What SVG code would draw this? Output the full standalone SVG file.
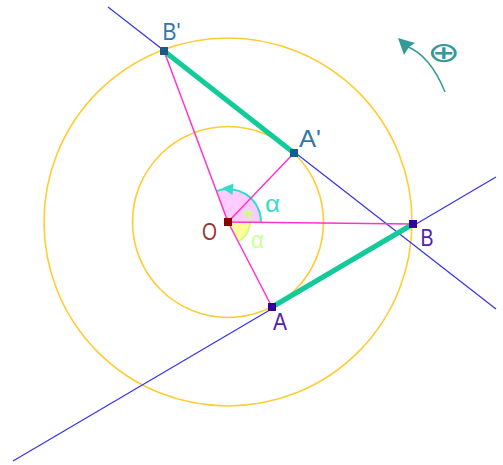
<svg xmlns="http://www.w3.org/2000/svg" width="503" height="465" viewBox="0 0 503 465">
<style>
.circ{fill:none;stroke:#ffcc33;stroke-width:1.6}
.blue{stroke:#3333ee;stroke-width:1.2;fill:none}
.pink{stroke:#ff33cc;stroke-width:1.5;fill:none}
.seg{stroke:#11cc99;stroke-width:5;stroke-linecap:butt}
.lbl{font-family:"Liberation Sans",Arial,sans-serif;font-size:23px}
.ptA{fill:#330099}
.ptA2{fill:#1a5a88}
.labA{fill:#5522aa}
.labA2{fill:#3377aa}
</style>
<rect width="503" height="465" fill="#ffffff"/>
<g id="circles">
<circle class="circ" cx="228" cy="222" r="95.5"/>
<circle class="circ" cx="228" cy="222" r="184"/>
</g>
<g id="angles">
<path d="M228,222 L250,222 A22,22 0 0 1 238.1,241.5 Z" fill="#ffff99"/>
<path d="M228,222 L261,222.2 A33,33 0 0 0 216.4,191.1 Z" fill="#ffccff"/>
<path d="M261,222.2 A33,33 0 0 0 216.4,191.1" fill="none" stroke="#33ddcc" stroke-width="2"/>
<polygon points="222,188 233.5,183.5 232.5,195" fill="#33ddcc"/>
<path d="M238.1,241.5 A22,22 0 0 0 248.7,214.5" fill="none" stroke="#ccff88" stroke-width="2"/>
<polygon points="245.5,208.5 253.5,213.5 244.5,217" fill="#ccff88"/>
<text class="lbl" x="265" y="212" fill="#33ddcc" font-size="23" textLength="15" lengthAdjust="spacingAndGlyphs">α</text>
<text class="lbl" x="251" y="248" fill="#ccff99" font-size="22" textLength="13" lengthAdjust="spacingAndGlyphs">α</text>
</g>
<g id="connectors">
<line class="blue" x1="108" y1="7" x2="496" y2="309"/>
<line class="blue" x1="13" y1="461" x2="496" y2="177"/>
<line class="pink" x1="228" y1="222" x2="164" y2="51"/>
<line class="pink" x1="228" y1="222" x2="272" y2="307"/>
<line class="pink" x1="228" y1="222" x2="413" y2="224"/>
<line class="pink" x1="228" y1="222" x2="294" y2="153"/>
<line class="seg" x1="164" y1="51" x2="294" y2="153"/>
<line class="seg" x1="272" y1="307" x2="413" y2="224"/>
</g>
<g id="node-O">
<rect x="224" y="218" width="8" height="8" fill="#880000"/>
<text class="lbl" x="202" y="240" fill="#993333" textLength="15" lengthAdjust="spacingAndGlyphs">O</text>
</g>
<g id="node-A">
<rect x="268" y="303" width="8" height="8" class="ptA"/>
<text class="lbl labA" x="273" y="329.5" textLength="14" lengthAdjust="spacingAndGlyphs">A</text>
</g>
<g id="node-B">
<rect x="409" y="220" width="8" height="8" class="ptA"/>
<text class="lbl labA" x="420.5" y="246" textLength="13" lengthAdjust="spacingAndGlyphs">B</text>
</g>
<g id="node-A2">
<rect x="290" y="149" width="8" height="8" class="ptA2"/>
<text class="lbl labA2" x="299" y="147" textLength="22" lengthAdjust="spacingAndGlyphs">A'</text>
</g>
<g id="node-B2">
<rect x="160" y="47" width="8" height="8" class="ptA2"/>
<text class="lbl labA2" x="162.5" y="40" textLength="18" lengthAdjust="spacingAndGlyphs">B'</text>
</g>
<g id="rotation-sense">
<path d="M445,92 Q430,55 406,46" fill="none" stroke="#339999" stroke-width="1.5"/>
<polygon points="398,38 415,43 409,47 404,55" fill="#339999"/>
<text x="427" y="62" font-family="DejaVu Sans,sans-serif" font-size="28" fill="#339999" textLength="33" lengthAdjust="spacingAndGlyphs">⊕</text>
</g>
</svg>
